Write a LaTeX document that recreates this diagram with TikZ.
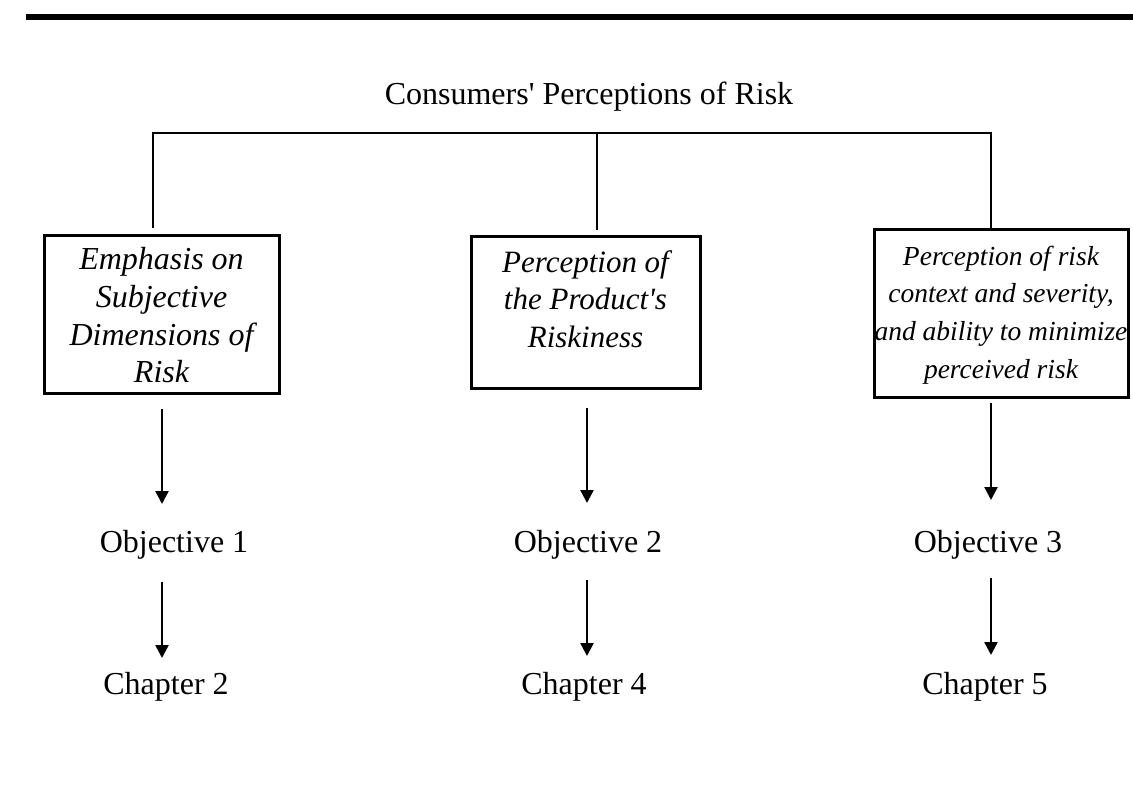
\documentclass[tikz,border=0pt]{standalone}
\usepackage{fontspec}
\setmainfont{Liberation Serif}
\usetikzlibrary{arrows.meta}
\tikzset{
  rule/.style={line width=2.6pt},
  box/.style={draw, line width=3pt, align=center, inner sep=0pt},
  lbl/.style={font=\fontsize{32}{38}\selectfont, inner sep=0pt, anchor=base},
  title/.style={font=\fontsize{32}{38}\selectfont, inner sep=0pt, anchor=base},
  arr/.style={line width=2.4pt, -{Triangle[width=13pt,length=13pt]}},
}
\begin{document}
\begin{tikzpicture}[x=1pt,y=-1pt]
\useasboundingbox (0,0) rectangle (1133,785);
\fill[white] (0,0) rectangle (1133,785);
% top rule
\coordinate (r1) at (26,17);
\coordinate (r2) at (1133,17);
\draw[line width=5.5pt] (r1) -- (r2);
% title
\node[title] (t) at (589,104) {Consumers\textquotesingle{} Perceptions of Risk};
% boxes
\node[box, minimum width=235pt, minimum height=158pt,
  font=\fontsize{32}{37.7}\selectfont\itshape] (b1) at (161.5,314)
  {\rule{0pt}{25pt}Emphasis on\\Subjective\\Dimensions of\\Risk};
\node[box, minimum width=229pt, minimum height=152pt,
  font=\fontsize{31}{37.7}\selectfont\itshape] (b2) at (585.5,312)
  {Perception of\\the Product\textquotesingle s\\Riskiness\rule[-26pt]{0pt}{1pt}};
\node[box, minimum width=254pt, minimum height=168pt,
  font=\fontsize{27.5}{37.7}\selectfont\itshape] (b3) at (1001,313)
  {\rule{0pt}{23pt}Perception of risk\\context and severity,\\and ability to minimize\\perceived risk};
% bracket
\coordinate (h1) at (153,133);
\coordinate (h2) at (597,133);
\coordinate (h3) at (991,133);
\coordinate (v1) at (153,228);
\coordinate (v2) at (597,230);
\coordinate (v3) at (991,229);
\draw[rule] (v1) -- (h1) -- (h3) -- (v3);
\draw[rule] (h2) -- (v2);
% objectives and chapters
\node[lbl] (o1) at (174,552) {Objective 1};
\node[lbl] (o2) at (588,552) {Objective 2};
\node[lbl] (o3) at (988,552) {Objective 3};
\node[lbl] (c1) at (166,694) {Chapter 2};
\node[lbl] (c2) at (584,694) {Chapter 4};
\node[lbl] (c3) at (985,694) {Chapter 5};
% arrows
\coordinate (a1) at (162,409);
\coordinate (a2) at (587,408);
\coordinate (a3) at (991,403);
\coordinate (e1) at (162,504);
\coordinate (e2) at (587,503);
\coordinate (e3) at (991,500);
\coordinate (f1) at (162,582);
\coordinate (f2) at (587,580);
\coordinate (f3) at (991,578);
\coordinate (g1) at (162,658);
\coordinate (g2) at (587,656);
\coordinate (g3) at (991,655);
\draw[arr] (a1) -- (e1);
\draw[arr] (a2) -- (e2);
\draw[arr] (a3) -- (e3);
\draw[arr] (f1) -- (g1);
\draw[arr] (f2) -- (g2);
\draw[arr] (f3) -- (g3);
\end{tikzpicture}
\end{document}
